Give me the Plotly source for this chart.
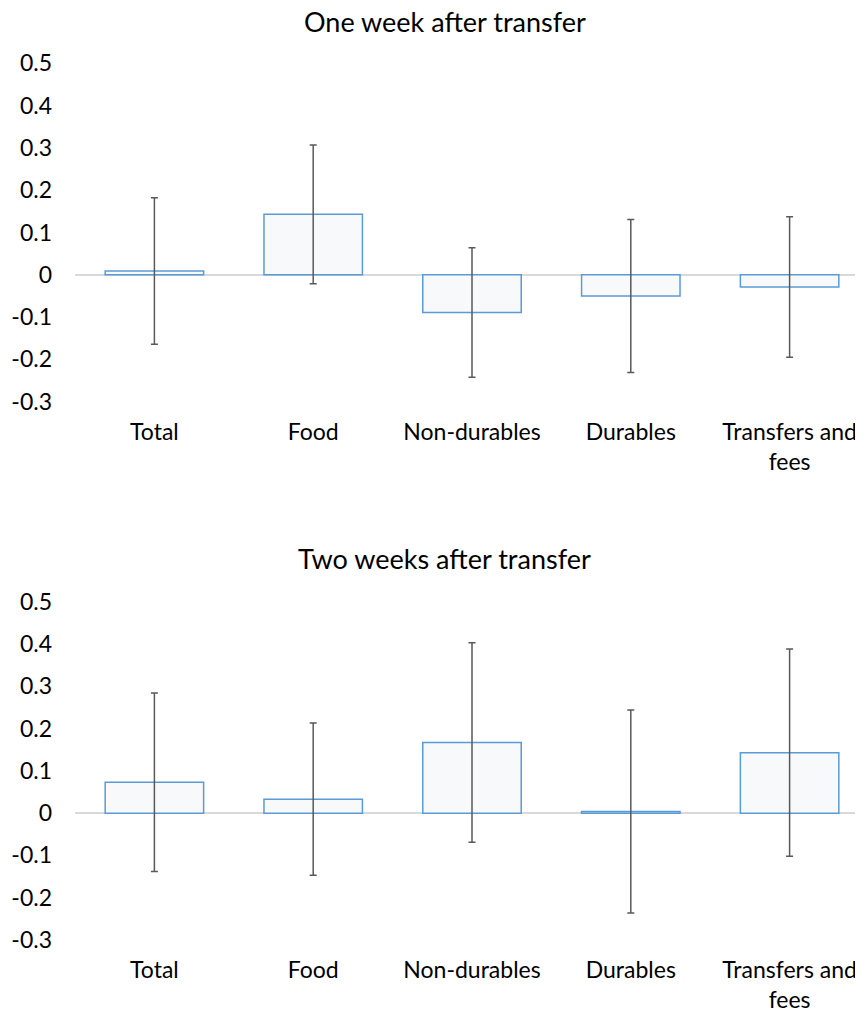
import plotly.graph_objects as go

categories = ["Total", "Food", "Non-durables", "Durables", "Transfers and<br>fees"]
one_week_vals = [0.009, 0.143, -0.089, -0.050, -0.029]
one_week_err = [0.173, 0.164, 0.153, 0.181, 0.166]
two_week_vals = [0.073, 0.033, 0.167, 0.004, 0.143]
two_week_err = [0.211, 0.180, 0.236, 0.240, 0.245]
titles = ["One week after transfer", "Two weeks after transfer"]
y_ticks = [-0.3, -0.2, -0.1, 0, 0.1, 0.2, 0.3, 0.4, 0.5]
y_ticklabels = ["-0.3", "-0.2", "-0.1", "0", "0.1", "0.2", "0.3", "0.4", "0.5"]

W, H = 863, 1014
OFF = 8  # page body margin offset
FONT = "Lato"
BAR_FILL = "#F8F9FB"
BAR_LINE = "#5B9BD5"
ERR_COLOR = "#595959"

fig = go.Figure()

panels = [
    (one_week_vals, one_week_err, "x", "y", (63.3, 401.7), 22),
    (two_week_vals, two_week_err, "x2", "y2", (601.7, 940.0), 558),
]

for i, (vals, errs, xa, ya, (ytop, ybot), title_y) in enumerate(panels):
    fig.add_trace(go.Bar(
        x=categories, y=vals, xaxis=xa, yaxis=ya,
        width=0.62,
        marker=dict(color=BAR_FILL, line=dict(color=BAR_LINE, width=1.5)),
        error_y=dict(type="data", array=errs, visible=True,
                     color=ERR_COLOR, thickness=1.5, width=3.5),
        showlegend=False,
    ))
    dom = [1 - (ybot - OFF) / H, 1 - (ytop - OFF) / H]
    xkey = "xaxis" if i == 0 else "xaxis2"
    ykey = "yaxis" if i == 0 else "yaxis2"
    fig.update_layout(**{
        xkey: dict(domain=[(75 - OFF) / W, (869 - OFF) / W], range=[-0.5, 4.5], anchor=ya,
                   showgrid=False, showline=False, zeroline=False, automargin=False,
                   ticks="", ticklabelstandoff=14,
                   tickfont=dict(family=FONT, size=23, color="#000000")),
        ykey: dict(domain=dom, range=[-0.3, 0.5], anchor=xa, automargin=False,
                   showgrid=False, showline=False,
                   zeroline=True, zerolinecolor="#D9D9D9", zerolinewidth=1.5,
                   tickmode="array", tickvals=y_ticks, ticktext=y_ticklabels,
                   ticks="", ticklabelstandoff=22,
                   tickfont=dict(family=FONT, size=23, color="#000000")),
    })
    fig.add_annotation(text=titles[i], xref="paper", yref="paper",
                       x=(445 - OFF) / W, y=1 - (title_y - OFF) / H,
                       xanchor="center", yanchor="middle", borderpad=0,
                       showarrow=False, font=dict(family=FONT, size=27, color="#000000"))

fig.update_layout(
    width=W, height=H,
    margin=dict(l=0, r=0, t=0, b=0, autoexpand=False),
    paper_bgcolor="white", plot_bgcolor="white",
)

fig.write_html("out.html")
